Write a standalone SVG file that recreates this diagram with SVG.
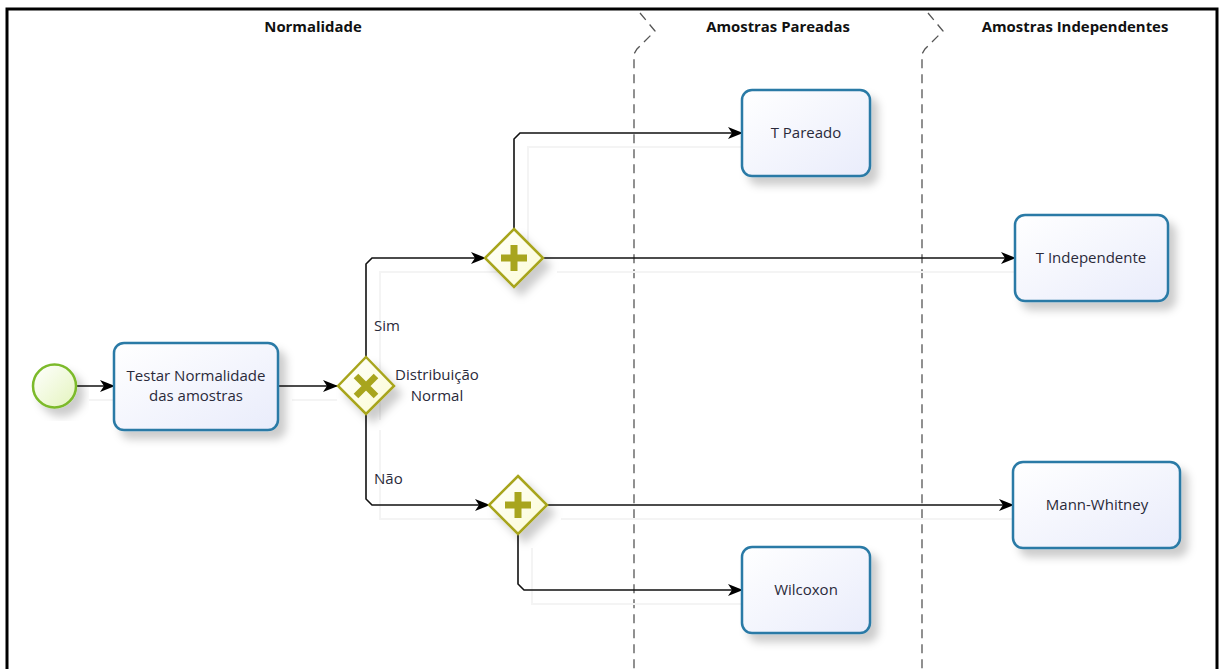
<svg xmlns="http://www.w3.org/2000/svg" width="1222" height="669" viewBox="0 0 1222 669">
<defs>
  <linearGradient id="taskFill" x1="0" y1="0" x2="1" y2="1">
    <stop offset="0" stop-color="#ffffff"/>
    <stop offset="1" stop-color="#e9ecfb"/>
  </linearGradient>
  <linearGradient id="startFill" x1="0" y1="0" x2="1" y2="1">
    <stop offset="0" stop-color="#ffffff"/>
    <stop offset="1" stop-color="#e4f4bd"/>
  </linearGradient>
  <linearGradient id="gwFill" x1="0" y1="0" x2="1" y2="1">
    <stop offset="0" stop-color="#ffffff"/>
    <stop offset="1" stop-color="#fbfbd2"/>
  </linearGradient>
  <filter id="shadow" x="-20%" y="-20%" width="150%" height="150%">
    <feDropShadow dx="7" dy="8" stdDeviation="4" flood-color="#000" flood-opacity="0.2"/>
  </filter>
  <marker id="arrow" viewBox="0 0 15 12" refX="14" refY="6" markerWidth="15" markerHeight="12" markerUnits="userSpaceOnUse" orient="auto">
    <path d="M0,0 L15,6 L0,12 L4,6 Z" fill="#000"/>
  </marker>
  <style>
    .lane { font-family: "Open Sans", "Noto Sans", sans-serif; font-size: 14.9px; font-weight: bold; fill: #111; text-anchor: middle; }
    .lbl { font-family: "Open Sans", "Noto Sans", sans-serif; font-size: 15px; fill: #2a2a3a; }
    .task rect { fill: url(#taskFill); stroke: #2a7aa6; stroke-width: 2.5; }
    .task text { font-family: "Open Sans", "Noto Sans", sans-serif; font-size: 15px; fill: #2a2a3a; text-anchor: middle; }
    .gw polygon { fill: url(#gwFill); stroke: #a8a51e; stroke-width: 2.5; }
    .gw .sym { fill: #a8a51e; }
    .edge { fill: none; stroke: #111; stroke-width: 1.6; marker-end: url(#arrow); }
    .ghost { fill: none; stroke: #f4f4f4; stroke-width: 2; }
    .sep { fill: none; stroke: #555; stroke-width: 1.3; stroke-dasharray: 9 6; }
  </style>
</defs>
<rect width="1222" height="669" fill="#ffffff"/>
<!-- frame -->
<path d="M7,669 V9 H1217 V669" fill="none" stroke="#000" stroke-width="3"/>

<!-- lane separators -->
<g id="lanes">
  <path class="sep" d="M640,13 L655,31 L637,49 L634,54 V669"/>
  <path class="sep" d="M928,13 L943,31 L925,49 L922,54 V669"/>
  <text class="lane" x="313" y="32">Normalidade</text>
  <text class="lane" x="778" y="32">Amostras Pareadas</text>
  <text class="lane" x="1075" y="32">Amostras Independentes</text>
</g>

<!-- ghost (shadow) lines of connectors -->
<g id="ghosts">
  <path class="ghost" d="M380,420 V272 H499"/>
  <path class="ghost" d="M380,430 V519 H503"/>
  <path class="ghost" d="M528,243 V147 H742"/>
  <path class="ghost" d="M557,272 H1015"/>
  <path class="ghost" d="M561,519 H1013"/>
  <path class="ghost" d="M532,548 V604 H742"/>
  <path class="ghost" d="M89,400 H114"/>
  <path class="ghost" d="M292,400 H337"/>
</g>

<!-- connectors -->
<g id="connectors">
  <path class="edge" d="M76,386 H114"/>
  <path class="edge" d="M278,386 H337"/>
  <path class="edge" d="M366,357 V264 L372,258 H485"/>
  <path class="edge" d="M366,414 V499 L372,505 H489"/>
  <path class="edge" d="M514,229 V139 L520,133 H742"/>
  <path class="edge" d="M543,258 H1015"/>
  <path class="edge" d="M547,505 H1013"/>
  <path class="edge" d="M518,534 V584 L524,590 H742"/>
  <text class="lbl" x="374" y="331">Sim</text>
  <text class="lbl" x="374" y="484">Não</text>
</g>

<!-- nodes -->
<g id="start">
  <circle cx="54.5" cy="386" r="21.5" fill="url(#startFill)" stroke="#7cba2a" stroke-width="2.5" filter="url(#shadow)"/>
</g>
<g id="task-testar" class="task">
  <rect x="114" y="343" width="164" height="87" rx="10" filter="url(#shadow)"/>
  <text x="196" y="381">Testar Normalidade</text>
  <text x="196" y="401">das amostras</text>
</g>
<g id="gw-xor" class="gw">
  <polygon points="366,357 394,386 366,414 338,386" filter="url(#shadow)"/>
  <path d="M356,376 L376,396 M376,376 L356,396" stroke="#a8a51e" stroke-width="6.5" fill="none"/>
  <text class="lbl" x="437" y="380" text-anchor="middle">Distribuição</text>
  <text class="lbl" x="437" y="401" text-anchor="middle">Normal</text>
</g>
<g id="gw-and-1" class="gw">
  <polygon points="514,229 543,258 514,287 485,258" filter="url(#shadow)"/>
  <rect class="sym" x="510.5" y="245" width="7" height="26"/>
  <rect class="sym" x="501" y="254.5" width="26" height="7"/>
</g>
<g id="gw-and-2" class="gw">
  <polygon points="518,476 547,505 518,534 489,505" filter="url(#shadow)"/>
  <rect class="sym" x="514.5" y="492" width="7" height="26"/>
  <rect class="sym" x="505" y="501.5" width="26" height="7"/>
</g>
<g id="task-tpareado" class="task">
  <rect x="742" y="90" width="128" height="86" rx="10" filter="url(#shadow)"/>
  <text x="806" y="138">T Pareado</text>
</g>
<g id="task-tindependente" class="task">
  <rect x="1015" y="215" width="153" height="86" rx="10" filter="url(#shadow)"/>
  <text x="1091" y="263">T Independente</text>
</g>
<g id="task-mannwhitney" class="task">
  <rect x="1013" y="462" width="167" height="86" rx="10" filter="url(#shadow)"/>
  <text x="1097" y="510">Mann-Whitney</text>
</g>
<g id="task-wilcoxon" class="task">
  <rect x="742" y="547" width="128" height="86" rx="10" filter="url(#shadow)"/>
  <text x="806" y="595">Wilcoxon</text>
</g>
</svg>
